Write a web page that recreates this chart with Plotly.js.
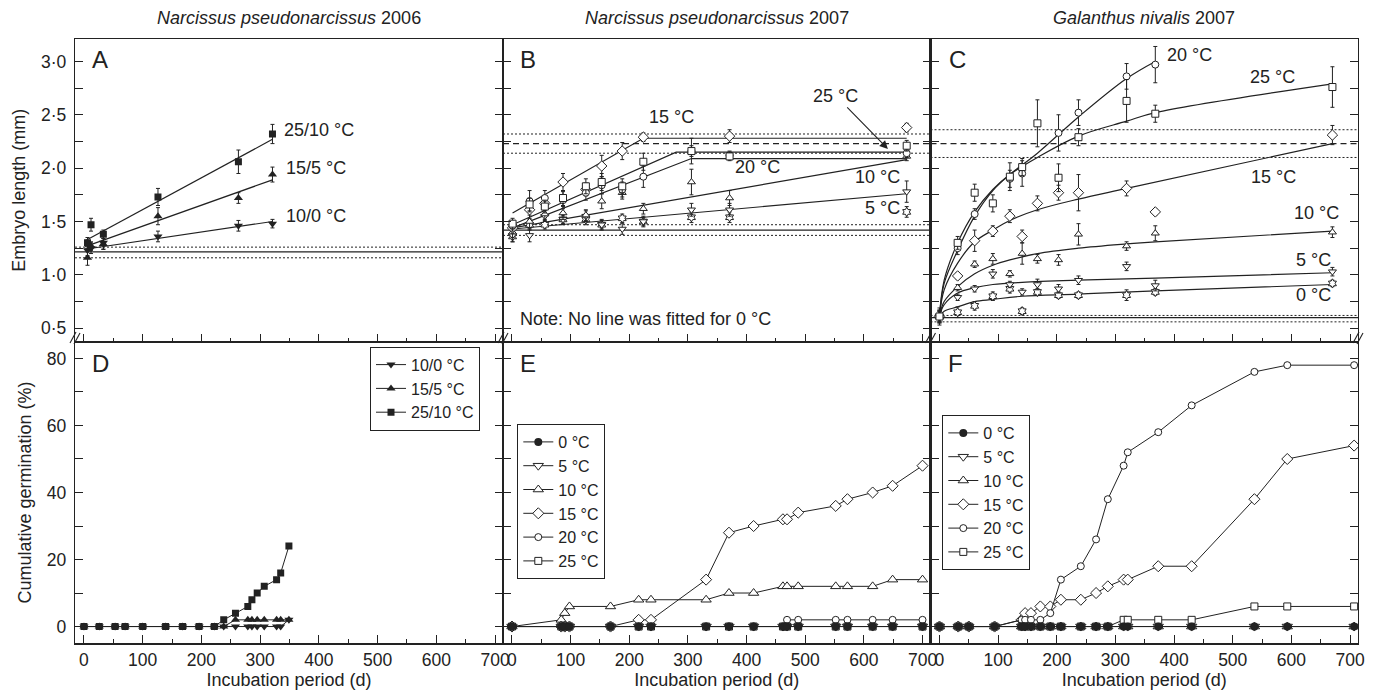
<!DOCTYPE html>
<html><head><meta charset="utf-8">
<script src="https://cdn.plot.ly/plotly-3.0.1.min.js"></script>
<style>html,body{margin:0;padding:0;background:#fff}#chart{width:1378px;height:695px}</style>
</head><body><div id="chart"></div>
<script>
// ================= DATA =================
const dayTicks = [0,100,200,300,400,500,600,700];
const dayMinorTicks = [50,150,250,350,450,550,650];
const embryoTickVals = [0.5,0.75,1.0,1.25,1.5,1.75,2.0,2.25,2.5,2.75,3.0];
const embryoTickText = ['0·5','','1·0','','1·5','','2·0','','2·5','','3·0'];
const germTickVals = [0,10,20,30,40,50,60,70,80];
const germTickText = ['0','','20','','40','','60','','80'];

const panelTitles = ['<i>Narcissus pseudonarcissus</i> 2006','<i>Narcissus pseudonarcissus</i> 2007','<i>Galanthus nivalis</i> 2007'];
const panelLetters = ['A','B','C','D','E','F'];

// ---- Panel A : embryo length, N. pseudonarcissus 2006 ----
const aDays = [6, 12, 33, 126, 263, 321];
const aLen_10_0  = [1.23, 1.25, 1.30, 1.36, 1.46, 1.48];
const aErr_10_0  = [0.05, 0.05, 0.06, 0.05, 0.05, 0.04];
const aLen_15_5  = [1.16, 1.27, 1.29, 1.55, 1.72, 1.94];
const aErr_15_5  = [0.07, 0.04, 0.05, 0.08, 0.05, 0.07];
const aLen_25_10 = [1.30, 1.47, 1.38, 1.73, 2.06, 2.32];
const aErr_25_10 = [0.05, 0.06, 0.04, 0.08, 0.11, 0.09];
const aFitDays = [2, 321];
const aFit_10_0  = [1.24, 1.50];
const aFit_15_5  = [1.265, 1.89];
const aFit_25_10 = [1.32, 2.27];
const aRefLines = [1.16, 1.215, 1.26];        // dotted, solid, dotted

// ---- Panel B : embryo length, N. pseudonarcissus 2007 ----
const bDays = [1, 30, 56, 87, 126, 153, 188, 224, 306, 371, 673];
const bLen0  = [1.36, 1.47, 1.47, 1.52, 1.52, 1.47, 1.53, 1.50, 1.54, 1.54, 1.59];
const bErr0  = [0.05, 0.05, 0.04, 0.04, 0.05, 0.04, 0.04, 0.04, 0.05, 0.05, 0.05];
const bLen5  = [1.37, 1.37, 1.55, 1.52, 1.55, 1.47, 1.43, 1.50, 1.61, 1.61, 1.78];
const bErr5  = [0.06, 0.06, 0.05, 0.05, 0.05, 0.05, 0.05, 0.05, 0.06, 0.06, 0.10];
const bLen10 = [1.40, 1.50, 1.57, 1.58, 1.56, 1.69, 1.77, 1.62, 1.87, 1.72, 2.11];
const bErr10 = [0.05, 0.06, 0.05, 0.06, 0.05, 0.07, 0.06, 0.05, 0.12, 0.07, 0.04];
const bLen15 = [1.44, 1.61, 1.67, 1.87, 1.80, 2.02, 2.16, 2.29, null, 2.30, 2.38];
const bErr15 = [0.05, 0.08, 0.06, 0.08, 0.06, 0.10, 0.08, 0.04, 0, 0.06, 0.04];
const bLen20 = [1.46, 1.69, 1.72, 1.70, 1.77, 1.84, 1.80, 1.92, 2.16, 2.12, 2.14];
const bErr20 = [0.05, 0.10, 0.07, 0.08, 0.07, 0.08, 0.07, 0.10, 0.12, 0.04, 0.04];
const bLen25 = [1.48, 1.66, 1.64, 1.72, 1.83, 1.87, 1.83, 2.06, 2.16, 2.11, 2.21];
const bErr25 = [0.05, 0.06, 0.06, 0.07, 0.07, 0.08, 0.07, 0.08, 0.05, 0.04, 0.05];
const bFit5Days  = [1, 673];        const bFit5  = [1.43, 1.76];
const bFit10Days = [1, 673];        const bFit10 = [1.44, 2.08];
const bFit15Days = [1, 224, 673];   const bFit15 = [1.58, 2.28, 2.28];
const bFit20Days = [1, 306, 673];   const bFit20 = [1.44, 2.09, 2.09];
const bFit25Days = [1, 280, 673];   const bFit25 = [1.47, 2.15, 2.15];
const bRefLow  = [1.37, 1.42, 1.47];  // dotted, solid, dotted
const bRefHigh = [2.14, 2.23, 2.32];  // dotted, dashed, dotted

// ---- Panel C : embryo length, G. nivalis 2007 ----
const cDays = [0, 31, 60, 91, 120, 141, 167, 203, 237, 319, 368, 670];
const cLen0  = [0.61, 0.65, 0.71, 0.80, 0.87, 0.66, 0.84, 0.81, 0.81, 0.81, 0.84, 0.92];
const cErr0  = [0.08, 0.05, 0.04, 0.04, 0.04, 0.03, 0.03, 0.03, 0.03, 0.05, 0.03, 0.03];
const cLen5  = [0.61, 0.79, 0.87, 1.01, 0.91, 0.84, 0.91, 0.87, 0.95, 1.08, 0.90, 1.03];
const cErr5  = [0.05, 0.03, 0.03, 0.04, 0.03, 0.03, 0.05, 0.04, 0.04, 0.04, 0.05, 0.04];
const cLen10 = [0.61, 0.88, 1.10, 1.15, 1.01, 1.20, 1.15, 1.14, 1.38, 1.27, 1.39, 1.40];
const cErr10 = [0.05, 0.03, 0.03, 0.05, 0.03, 0.10, 0.04, 0.05, 0.10, 0.04, 0.07, 0.05];
const cLen15 = [0.61, 0.99, 1.32, 1.41, 1.55, 1.36, 1.67, 1.77, 1.77, 1.81, 1.59, 2.31];
const cErr15 = [0.05, 0.03, 0.10, 0.05, 0.06, 0.06, 0.07, 0.07, 0.17, 0.07, 0.03, 0.09];
const cLen20 = [0.61, 1.25, 1.57, null, 1.90, 1.95, null, 2.33, 2.52, 2.86, 2.97, null];
const cErr20 = [0.06, 0.06, 0.05, 0, 0.08, 0.12, 0, 0.17, 0.12, 0.12, 0.17, 0];
const cLen25 = [0.61, 1.30, 1.77, 1.67, 1.92, 2.01, 2.42, 1.91, 2.29, 2.63, 2.51, 2.76];
const cErr25 = [0.06, 0.06, 0.08, 0.08, 0.13, 0.08, 0.22, 0.13, 0.08, 0.20, 0.08, 0.19];
const cFit0Days  = [0, 8, 31, 60, 91, 141, 237, 368, 670];
const cFit0      = [0.61, 0.66, 0.70, 0.75, 0.77, 0.80, 0.82, 0.85, 0.91];
const cFit5Days  = [0, 8, 31, 60, 91, 141, 237, 368, 670];
const cFit5      = [0.61, 0.72, 0.83, 0.88, 0.91, 0.93, 0.95, 0.97, 1.02];
const cFit10Days = [0, 8, 31, 60, 91, 120, 167, 237, 319, 368, 670];
const cFit10     = [0.61, 0.75, 0.89, 1.01, 1.09, 1.14, 1.20, 1.25, 1.29, 1.31, 1.41];
const cFit15Days = [0, 8, 31, 60, 91, 120, 167, 237, 319, 670];
const cFit15     = [0.61, 0.86, 1.11, 1.31, 1.42, 1.51, 1.61, 1.71, 1.81, 2.23];
const cFit20Days = [0, 8, 31, 60, 91, 120, 167, 237, 319, 368];
const cFit20     = [0.61, 0.92, 1.23, 1.55, 1.79, 1.94, 2.14, 2.48, 2.84, 3.00];
const cFit25Days = [0, 8, 31, 60, 91, 120, 167, 237, 319, 368, 670];
const cFit25     = [0.61, 0.95, 1.30, 1.59, 1.80, 1.94, 2.10, 2.30, 2.44, 2.52, 2.79];
const cRefLow  = [0.56, 0.60, 0.62];
const cRefHigh = [2.10, 2.23, 2.36];

// ---- Panel D : germination, N. pseudonarcissus 2006 ----
const dDays = [0, 26, 53, 70, 100, 139, 168, 196, 222, 238, 258, 279, 286, 295, 307, 328, 335, 349];
const dGerm_10_0  = [0,0,0,0,0,0,0,0,0,0,0,0,0,0,0,0,0,2];
const dGerm_15_5  = [0,0,0,0,0,0,0,0,0,0,2,2,2,2,2,2,2,2];
const dGerm_25_10 = [0,0,0,0,0,0,0,0,0,2,4,6,8,10,12,14,16,24];

// ---- Panel E : germination, N. pseudonarcissus 2007 ----
const eDays = [0, 84, 90, 98, 168, 216, 237, 331, 370, 412, 462, 469, 488, 552, 572, 615, 649, 700];
const eGerm0  = [0,0,0,0,0,0,0,0,0,0,0,0,0,0,0,0,0,0];
const eGerm5  = [0,0,0,0,0,0,0,0,0,0,0,0,0,0,0,0,0,0];
const eGerm10 = [0,2,4,6,6,8,8,8,10,10,12,12,12,12,12,12,14,14];
const eGerm15 = [0,0,0,0,0,2,2,14,28,30,32,32,34,36,38,40,42,48];
const eGerm20 = [0,0,0,0,0,0,0,0,0,0,0,2,2,2,2,2,2,2];
const eGerm25 = [0,0,0,0,0,0,0,0,0,0,0,0,0,0,0,0,0,0];

// ---- Panel F : germination, G. nivalis 2007 ----
const fDays = [0, 32, 50, 94, 140, 146, 156, 172, 189, 207, 241, 267, 287, 314, 321, 373, 430, 537, 593, 707];
const fGerm0  = [0,0,0,0,0,0,0,0,0,0,0,0,0,0,0,0,0,0,0,0];
const fGerm5  = [0,0,0,0,0,0,0,0,0,0,0,0,0,0,0,0,0,0,0,0];
const fGerm10 = [0,0,0,0,0,0,0,0,0,0,0,0,0,0,0,0,0,0,0,0];
const fGerm15 = [0,0,0,0,2,4,4,6,6,8,8,10,12,14,14,18,18,38,50,54];
const fGerm20 = [0,0,0,0,2,2,2,2,4,14,18,26,38,48,52,58,66,76,78,78];
const fGerm25 = [0,0,0,0,0,0,0,0,0,0,0,0,0,2,2,2,2,6,6,6];

const tempNames = ['0 °C','5 °C','10 °C','15 °C','20 °C','25 °C'];
const altNames  = ['10/0 °C','15/5 °C','25/10 °C'];

// ================= STYLE / LAYOUT HELPERS =================
const W = 1378, H = 695;
const FONT = 'Liberation Sans, Arial, Helvetica, sans-serif';
const INK = '#222';
const PX = p => p / W;
const PY = p => 1 - p / H;
const colEdges = [75, 503, 930.5, 1358];
const rowEdges = [39, 341.7, 643.3];
const syms = ['hexagram','triangle-down','triangle-up','diamond','circle','square'];
const germSize = {'triangle-down':9, 'triangle-up':9, 'diamond':8.5, 'circle':7, 'square':7, 'hexagram':8};

function errBar(arr){ return {type:'data', array:arr, visible:true, color:INK, thickness:1, width:2}; }

function openPts(xa, ya, x, y, e, sym){
  return {type:'scatter', mode:'markers', x:x, y:y, xaxis:xa, yaxis:ya, showlegend:false,
    marker:{symbol:sym, size: sym==='diamond' ? 8 : 7, color:'white', line:{color:INK, width:1}}, error_y:errBar(e), hoverinfo:'x+y'};
}
function filledPts(xa, ya, x, y, e, sym){
  return {type:'scatter', mode:'markers', x:x, y:y, xaxis:xa, yaxis:ya, showlegend:false,
    marker:{symbol:sym, size:sym==='square'?7:8, color:INK}, error_y:errBar(e), hoverinfo:'x+y'};
}
function fitLine(xa, ya, x, y, smooth){
  return {type:'scatter', mode:'lines', x:x, y:y, xaxis:xa, yaxis:ya, showlegend:false,
    line:{color:INK, width:1.2, shape: smooth ? 'spline' : 'linear', smoothing: 1}, hoverinfo:'skip'};
}
function germLine(xa, ya, x, y, name, sym, filled, legend, rank){
  return {type:'scatter', mode:'lines+markers', x:x, y:y, xaxis:xa, yaxis:ya, name:name,
    legend:legend, legendrank:rank,
    line:{color:INK, width:1},
    marker: filled ? {symbol:sym, size: sym==='square'?7:8, color:INK}
                   : {symbol:sym, size:germSize[sym], color:'white', line:{color:INK, width:1}}};
}

const traces = [];
// Panel A
traces.push(fitLine('x','y', aFitDays, aFit_10_0));
traces.push(fitLine('x','y', aFitDays, aFit_15_5));
traces.push(fitLine('x','y', aFitDays, aFit_25_10));
traces.push(filledPts('x','y', aDays, aLen_10_0, aErr_10_0, 'triangle-down'));
traces.push(filledPts('x','y', aDays, aLen_15_5, aErr_15_5, 'triangle-up'));
traces.push(filledPts('x','y', aDays, aLen_25_10, aErr_25_10, 'square'));
// Panel B
[[bFit5Days,bFit5],[bFit10Days,bFit10],[bFit15Days,bFit15],[bFit20Days,bFit20],[bFit25Days,bFit25]]
  .forEach(f => traces.push(fitLine('x2','y2', f[0], f[1])));
[[bLen0,bErr0],[bLen5,bErr5],[bLen10,bErr10],[bLen15,bErr15],[bLen20,bErr20],[bLen25,bErr25]]
  .forEach((s,i) => traces.push(openPts('x2','y2', bDays, s[0], s[1], syms[i])));
// Panel C
[[cFit0Days,cFit0],[cFit5Days,cFit5],[cFit10Days,cFit10],[cFit15Days,cFit15],[cFit20Days,cFit20],[cFit25Days,cFit25]]
  .forEach(f => traces.push(fitLine('x3','y3', f[0], f[1], true)));
[[cLen0,cErr0],[cLen5,cErr5],[cLen10,cErr10],[cLen15,cErr15],[cLen20,cErr20],[cLen25,cErr25]]
  .forEach((s,i) => traces.push(openPts('x3','y3', cDays, s[0], s[1], syms[i])));
// Panel D (squares drawn first so the triangles sit on top, as in the original)
traces.push(germLine('x4','y4', dDays, dGerm_25_10, altNames[2], 'square', true, 'legend', 3));
traces.push(germLine('x4','y4', dDays, dGerm_15_5, altNames[1], 'triangle-up', true, 'legend', 2));
traces.push(germLine('x4','y4', dDays, dGerm_10_0, altNames[0], 'triangle-down', true, 'legend', 1));
// Panel E
const eSeries = [eGerm0,eGerm5,eGerm10,eGerm15,eGerm20,eGerm25];
for (let i = 1; i < 6; i++) traces.push(germLine('x5','y5', eDays, eSeries[i], tempNames[i], syms[i], false, 'legend2', i+1));
traces.push(germLine('x5','y5', eDays, eSeries[0], tempNames[0], 'circle', true, 'legend2', 1));
// Panel F
const fSeries = [fGerm0,fGerm5,fGerm10,fGerm15,fGerm20,fGerm25];
for (let i = 1; i < 6; i++) traces.push(germLine('x6','y6', fDays, fSeries[i], tempNames[i], syms[i], false, 'legend3', i+1));
traces.push(germLine('x6','y6', fDays, fSeries[0], tempNames[0], 'circle', true, 'legend3', 1));

// ---- axes ----
const TICKFONT = {family:FONT, size:17.5, color:INK};
const TITLEFONT = {family:FONT, size:18, color:INK};
function xAxis(col, row){
  const bottom = row === 1;
  const ax = {
    domain:[PX(colEdges[col]), PX(colEdges[col+1])], range:[-15.3, 713.6],
    anchor: 'y' + (row*3 + col + 1 === 1 ? '' : (row*3 + col + 1)),
    showline:true, mirror:true, linecolor:INK, linewidth:1.2,
    ticks:'inside', ticklen:8, tickwidth:1, tickcolor:INK,
    tickmode:'array', tickvals:dayTicks, showticklabels:bottom,
    minor:{tickmode:'array', tickvals:dayMinorTicks, ticks:'inside', ticklen:4, tickwidth:1, tickcolor:INK},
    tickfont:TICKFONT,
    showgrid:false, zeroline:false, fixedrange:true
  };
  if (bottom) ax.title = {text:'Incubation period (d)', font:TITLEFONT, standoff:4};
  return ax;
}
function yAxis(col, row){
  const top = row === 0;
  const ax = {
    domain: top ? [PY(rowEdges[1]), PY(rowEdges[0])] : [PY(rowEdges[2]), PY(rowEdges[1])],
    range: top ? [0.374, 3.21] : [-5, 85],
    anchor: 'x' + (row*3 + col + 1 === 1 ? '' : (row*3 + col + 1)),
    showline:true, mirror:'ticks', linecolor:INK, linewidth:1.2,
    ticks:'inside', ticklen:8, tickwidth:1, tickcolor:INK,
    tickmode:'array', tickvals: top ? embryoTickVals : germTickVals,
    ticktext: top ? embryoTickText : germTickText,
    showticklabels: col === 0, ticklabelstandoff: 4,
    tickfont:TICKFONT,
    showgrid:false, zeroline:false, fixedrange:true
  };
  if (col === 0) ax.title = {text: top ? 'Embryo length (mm)' : 'Cumulative germination (%)',
                             font:TITLEFONT, standoff:10};
  return ax;
}

const LEGFONT = {family:FONT, size:16, color:INK};
const layout = {
  width:W, height:H, margin:{l:0, r:0, t:0, b:0},
  paper_bgcolor:'white', plot_bgcolor:'white',
  font:{family:FONT, color:INK, size:14},
  showlegend:true,
  legend:{x:PX(480), xanchor:'right', y:PY(346.7), yanchor:'top', bgcolor:'white',
          bordercolor:INK, borderwidth:1, font:LEGFONT, itemwidth:30},
  legend2:{x:PX(517.3), xanchor:'left', y:PY(424), yanchor:'top', bgcolor:'white',
          bordercolor:INK, borderwidth:1, font:LEGFONT, itemwidth:30},
  legend3:{x:PX(942.3), xanchor:'left', y:PY(415), yanchor:'top', bgcolor:'white',
          bordercolor:INK, borderwidth:1, font:LEGFONT, itemwidth:30},
  annotations:[], shapes:[]
};
for (let r = 0; r < 2; r++) for (let c = 0; c < 3; c++) {
  const n = r*3 + c + 1, s = n === 1 ? '' : n;
  layout['xaxis' + s] = xAxis(c, r);
  layout['yaxis' + s] = yAxis(c, r);
}

// Reference (initial / mean) lines
function refShapes(xa, ya, vals, midDash){
  const dashes = ['2px,2px', midDash, '2px,2px'];
  vals.forEach((v,i) => layout.shapes.push({type:'line', xref:xa + ' domain', x0:0, x1:1, yref:ya, y0:v, y1:v,
    line:{color:INK, width: i===1 ? 1.2 : 1, dash:dashes[i]}, layer:'below'}));
}
refShapes('x','y', aRefLines, 'solid');
refShapes('x2','y2', bRefLow, 'solid');
refShapes('x2','y2', bRefHigh, '6px,4px');
refShapes('x3','y3', cRefLow, 'solid');
refShapes('x3','y3', cRefHigh, '6px,4px');

// axis-break marks "//"
colEdges.forEach(cx => {
  layout.shapes.push({type:'line', xref:'paper', yref:'paper', x0:PX(cx-5), y0:PY(343), x1:PX(cx+1), y1:PY(332), line:{color:INK, width:1.1}});
  layout.shapes.push({type:'line', xref:'paper', yref:'paper', x0:PX(cx-1), y0:PY(344), x1:PX(cx+5), y1:PY(333), line:{color:INK, width:1.1}});
});

// Column titles
const titleCenters = [289, 716.5, 1144];
panelTitles.forEach((t,i) => layout.annotations.push({text:t, xref:'paper', yref:'paper',
  x:PX(titleCenters[i]), y:PY(18), xanchor:'center', yanchor:'middle', showarrow:false, font:TITLEFONT}));
// Panel letters
const letterPos = [[100,59],[528,59],[957,59],[101,363],[528,363],[955,363]];
panelLetters.forEach((t,i) => layout.annotations.push({text:t, xref:'paper', yref:'paper',
  x:PX(letterPos[i][0]), y:PY(letterPos[i][1]), xanchor:'center', yanchor:'middle', showarrow:false,
  font:{family:FONT, size:24, color:INK}}));

// Series labels inside panels (data coordinates)
const LABFONT = {family:FONT, size:18, color:INK};
function lab(text, xa, ya, x, y, anchor){
  layout.annotations.push({text:text, xref:xa, yref:ya, x:x, y:y, xanchor:anchor||'left', yanchor:'middle',
    showarrow:false, font:LABFONT});
}
lab(altNames[2], 'x','y', 338, 2.36);
lab(altNames[1], 'x','y', 340, 2.00);
lab(altNames[0], 'x','y', 340, 1.55);
lab('15 °C', 'x2','y2', 230, 2.48);
lab('20 °C', 'x2','y2', 377, 2.01);
lab('10 °C', 'x2','y2', 665, 1.92, 'right');
lab('5 °C',  'x2','y2', 665, 1.63, 'right');
lab('Note: No line was fitted for 0 °C', 'x2','y2', 11, 0.59);
layout.annotations.push({text:'25 °C', xref:'x2', yref:'y2', x:641, y:2.18, ax:-52, ay:-53,
  showarrow:true, arrowhead:2, arrowsize:1.5, arrowwidth:1.1, arrowcolor:INK, font:LABFONT});
lab('20 °C', 'x3','y3', 384, 3.06);
lab('25 °C', 'x3','y3', 526, 2.85);
lab('15 °C', 'x3','y3', 527, 1.92);
lab('10 °C', 'x3','y3', 601, 1.58);
lab('5 °C',  'x3','y3', 604, 1.14);
lab('0 °C',  'x3','y3', 604, 0.81);

Plotly.newPlot('chart', traces, layout, {staticPlot:true, displayModeBar:false});
</script></body></html>
